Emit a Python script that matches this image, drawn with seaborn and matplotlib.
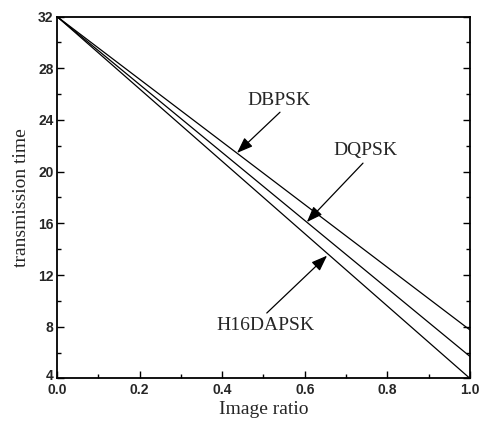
import numpy as np
import pandas as pd
import seaborn as sns
import matplotlib
matplotlib.use("Agg")
import matplotlib.pyplot as plt
from matplotlib.ticker import MultipleLocator
from matplotlib.transforms import ScaledTranslation

# Data
image_ratio = [0.0, 1.0]
dbpsk = [32.0, 7.75]
dqpsk = [32.0, 5.7]
h16dapsk = [32.0, 4.0]
series_names = ["DBPSK", "DQPSK", "H16DAPSK"]

x_ticks = [0.0, 0.2, 0.4, 0.6, 0.8, 1.0]
x_tick_labels = ["0.0", "0.2", "0.4", "0.6", "0.8", "1.0"]
y_ticks = [4, 8, 12, 16, 20, 24, 28, 32]
y_tick_labels = ["4", "8", "12", "16", "20", "24", "28", "32"]

df = pd.DataFrame({
    "ratio": image_ratio * 3,
    "time": dbpsk + dqpsk + h16dapsk,
    "scheme": [series_names[0]] * 2 + [series_names[1]] * 2 + [series_names[2]] * 2,
})

sns.set_theme(style="ticks")
plt.rcParams["font.family"] = ["Liberation Serif", "DejaVu Serif"]

fig = plt.figure(figsize=(4.82, 4.22), dpi=100)
ax = fig.add_axes([0.1183, 0.1033, 0.975 - 0.1183, 0.9607 - 0.1033])

sns.lineplot(data=df, x="ratio", y="time", hue="scheme", units="scheme",
             estimator=None, palette=["black"] * 3, linewidth=0.9,
             legend=False, ax=ax)

ax.set_xlim(0, 1)
ax.set_ylim(4, 32)
ax.set_xticks(x_ticks)
ax.set_xticklabels(x_tick_labels)
ax.set_yticks(y_ticks)
ax.set_yticklabels(y_tick_labels)
ax.xaxis.set_minor_locator(MultipleLocator(0.1))
ax.yaxis.set_minor_locator(MultipleLocator(2))
ax.tick_params(which="both", direction="in", top=False, right=True,
               width=1.0, color="black")
ax.tick_params(which="major", length=5)
ax.tick_params(which="minor", length=3)
ax.tick_params(axis="x", which="major", pad=3.5, labelsize=10)
ax.tick_params(axis="y", which="major", pad=2.5, labelsize=10)
for lab in ax.get_xticklabels() + ax.get_yticklabels():
    lab.set_family(["Liberation Sans", "DejaVu Sans"])
    lab.set_fontweight("bold")
for sp in ax.spines.values():
    sp.set_linewidth(1.3)
    sp.set_color("black")

# nudge the lowest y label up slightly, as in the reference
low = ax.get_yticklabels()[0]
low.set_transform(low.get_transform() + ScaledTranslation(0, 2.5 / 72, fig.dpi_scale_trans))

ax.set_xlabel("Image ratio", fontsize=14, labelpad=3)
ax.set_ylabel("transmission time", fontsize=14, labelpad=6)

arrowprops = dict(arrowstyle="-|>,head_length=0.8,head_width=0.3",
                  color="black", lw=0.9, shrinkA=0, shrinkB=0)

# DBPSK
ax.text(0.538, 25.5, series_names[0], fontsize=14, ha="center", va="center")
ax.annotate("", xy=(0.436, 21.45), xytext=(0.540, 24.6), arrowprops=arrowprops)
# DQPSK
ax.text(0.746, 21.6, series_names[1], fontsize=14, ha="center", va="center")
ax.annotate("", xy=(0.605, 16.1), xytext=(0.741, 20.66), arrowprops=arrowprops)
# H16DAPSK
ax.text(0.504, 8.1, series_names[2], fontsize=14, ha="center", va="center")
ax.annotate("", xy=(0.654, 13.5), xytext=(0.508, 9.06), arrowprops=arrowprops)

fig.savefig("out.png", dpi=100)
